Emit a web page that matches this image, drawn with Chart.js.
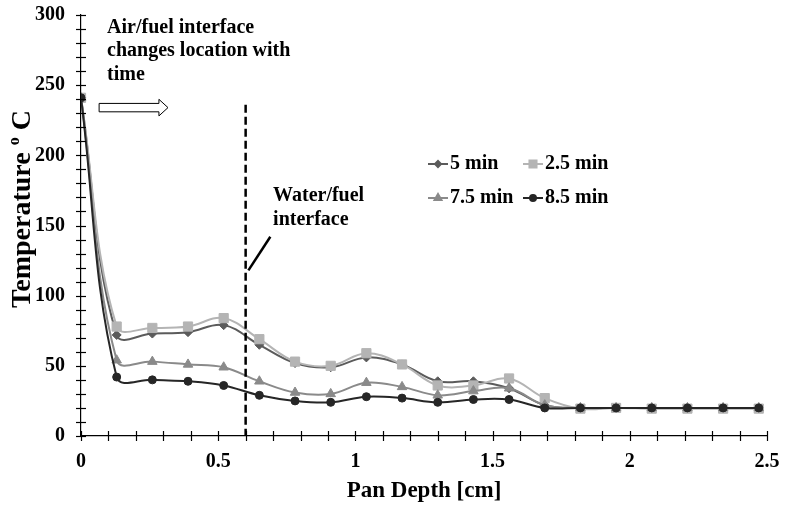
<!DOCTYPE html>
<html><head><meta charset="utf-8">
<script src="https://cdn.jsdelivr.net/npm/chart.js@4/dist/chart.umd.min.js"></script>
<style>html,body{margin:0;padding:0;background:#fff}#wrap{width:786px;height:506px;position:relative}</style>
</head><body><div id="wrap"><canvas id="c" width="786" height="506"></canvas></div>
<script>
const depth = [0,0.13,0.26,0.39,0.52,0.65,0.78,0.91,1.04,1.17,1.30,1.43,1.56,1.69,1.82,1.95,2.08,2.21,2.34,2.47];
const t5  = [241,72,73,74,79,65,52,49,56,51,39,39,34,22,20,20,20,20,20,20];
const t25 = [241,78,77,78,84,69,53,50,59,51,36,36,41,27,19.5,20,19.5,19.5,19.5,19.5];
const t75 = [241,54,53,51,49,39,31,30,38,35,29,32,34,22,20,20,20,20,20,20];
const t85 = [241,42,40,39,36,29,25,24,28,27,24,26,26,20,20,20,20,20,20,20];
const seriesNames = ['5 min','2.5 min','7.5 min','8.5 min'];
const xLabelTicks = [0,0.5,1,1.5,2,2.5];
const yLabelTicks = [0,50,100,150,200,250,300];
const noteAir = ['Air/fuel interface','changes location with','time'];
const noteWater = ['Water/fuel','interface'];
const yTitle = ['Temperature ','o',' C'];
const xTitle = 'Pan Depth [cm]';

const FONT = '"Liberation Serif", "Times New Roman", serif';
const styles = [
  {color:'#5b5b5b', point:'rectRot', r:4.5},
  {color:'#b4b4b4', point:'rect', r:6.5},
  {color:'#8a8a8a', point:'triangle', r:5.5},
  {color:'#262626', point:'circle', r:4}
];
const series = [t5,t25,t75,t85];
const orders = [3,2,1,0];

const datasets = series.map((vals,i)=>({
  label: seriesNames[i],
  data: depth.map((x,j)=>({x:x,y:vals[j]})),
  borderColor: styles[i].color,
  backgroundColor: styles[i].color,
  pointBackgroundColor: styles[i].color,
  pointBorderColor: styles[i].color,
  pointStyle: styles[i].point,
  pointRadius: styles[i].r,
  pointBorderWidth: 1,
  borderWidth: 2,
  tension: 0.38,
  order: orders[i],
  fill: false
}));

function near(v, arr){ return arr.some(a=>Math.abs(a-v)<1e-6); }

const annot = {
  id:'annot',
  afterDraw(chart){
    const ctx = chart.ctx, xs = chart.scales.x, ys = chart.scales.y, ca = chart.chartArea;
    ctx.save();
    // tick marks crossing axes
    ctx.strokeStyle = '#000'; ctx.lineWidth = 1.2;
    xs.ticks.forEach(t=>{
      const px = Math.round(xs.getPixelForValue(t.value))+0.5;
      ctx.beginPath(); ctx.moveTo(px, ca.bottom-5); ctx.lineTo(px, ca.bottom+5); ctx.stroke();
    });
    ys.ticks.forEach(t=>{
      const py = Math.round(ys.getPixelForValue(t.value))+0.5;
      ctx.beginPath(); ctx.moveTo(ca.left-5, py); ctx.lineTo(ca.left+5, py); ctx.stroke();
    });
    // dashed interface line
    ctx.lineWidth = 2.5; ctx.setLineDash([8,4]);
    const dx = xs.getPixelForValue(0.6);
    ctx.beginPath(); ctx.moveTo(dx, ys.getPixelForValue(236)); ctx.lineTo(dx, ys.getPixelForValue(0)); ctx.stroke();
    ctx.setLineDash([]);
    // pointer line
    ctx.beginPath(); ctx.moveTo(xs.getPixelForValue(0.61), ys.getPixelForValue(118));
    ctx.lineTo(xs.getPixelForValue(0.69), ys.getPixelForValue(142)); ctx.stroke();
    // hollow arrow
    const ax0 = xs.getPixelForValue(0.066), ax1 = xs.getPixelForValue(0.284), ax2 = xs.getPixelForValue(0.317);
    const ay = ys.getPixelForValue(234);
    ctx.lineWidth = 1; ctx.fillStyle = '#fff';
    ctx.beginPath();
    ctx.moveTo(ax0, ay-4.2); ctx.lineTo(ax1, ay-4.2); ctx.lineTo(ax1, ay-8.3); ctx.lineTo(ax2, ay);
    ctx.lineTo(ax1, ay+8.3); ctx.lineTo(ax1, ay+4.2); ctx.lineTo(ax0, ay+4.2); ctx.closePath();
    ctx.fill(); ctx.stroke();
    // notes
    ctx.fillStyle = '#000'; ctx.font = 'bold 20px '+FONT; ctx.textBaseline = 'middle'; ctx.textAlign = 'left';
    const airY = [290.8,274.4,257.3];
    noteAir.forEach((s,i)=>ctx.fillText(s, xs.getPixelForValue(0.095), ys.getPixelForValue(airY[i])));
    const wY = [171,154];
    noteWater.forEach((s,i)=>ctx.fillText(s, xs.getPixelForValue(0.7), ys.getPixelForValue(wY[i])));
    // legend
    const colX = [428, 523], rowY = [164, 198];
    seriesNames.forEach((n,i)=>{
      const lx = colX[i%2], ly = rowY[Math.floor(i/2)];
      ctx.strokeStyle = styles[i].color; ctx.lineWidth = 2;
      ctx.beginPath(); ctx.moveTo(lx, ly); ctx.lineTo(lx+20, ly); ctx.stroke();
      ctx.fillStyle = styles[i].color;
      Chart.helpers.drawPoint(ctx, {pointStyle: styles[i].point, radius: Math.max(3, styles[i].r-1.5), rotation:0, borderWidth:1}, lx+10, ly);
      ctx.fillStyle = '#000';
      ctx.fillText(n, lx+22, ly);
    });
    // y title
    ctx.save();
    ctx.translate(21, 209); ctx.rotate(-Math.PI/2);
    const big = 'bold 28px '+FONT, small = 'bold 16px '+FONT;
    ctx.font = big;
    const w0 = ctx.measureText(yTitle[0]).width;
    ctx.font = small;
    const w1 = ctx.measureText(yTitle[1]).width;
    ctx.font = big;
    const w2 = ctx.measureText(yTitle[2]).width;
    let sx = -(w0+w1+w2)/2;
    ctx.textAlign='left'; ctx.textBaseline='alphabetic';
    ctx.fillText(yTitle[0], sx, 9);
    ctx.font = small; ctx.fillText(yTitle[1], sx+w0, -2);
    ctx.font = big; ctx.fillText(yTitle[2], sx+w0+w1, 9);
    ctx.restore();
    ctx.restore();
  }
};

const hiddenGrid = {display:true, drawOnChartArea:false, drawTicks:true, tickLength:14, color:'rgba(0,0,0,0)'};

new Chart(document.getElementById('c'), {
  type:'line',
  data:{datasets},
  options:{
    responsive:false, animation:false,
    layout:{padding:{top:15,right:19,left:0,bottom:1}},
    plugins:{legend:{display:false}, tooltip:{enabled:false}},
    scales:{
      x:{type:'linear', min:0, max:2.5,
        afterFit(s){ s.height = 69; },
        grid:hiddenGrid,
        border:{display:true, color:'#000', width:1.2},
        ticks:{stepSize:0.1, autoSkip:false, maxRotation:0, color:'#000', padding:0,
          font:{family:FONT, size:20, weight:'bold'},
          callback:(v)=> near(v, xLabelTicks) ? String(Math.round(v*10)/10) : ''},
        title:{display:true, text:xTitle, color:'#000', font:{family:FONT, size:23, weight:'bold'}, padding:{top:0,bottom:0}}
      },
      y:{min:0, max:300,
        afterFit(s){ s.width = 81; },
        grid:hiddenGrid,
        border:{display:true, color:'#000', width:1.2},
        ticks:{stepSize:10, autoSkip:false, color:'#000', padding:2,
          font:{family:FONT, size:20, weight:'bold'},
          callback:(v)=> near(v, yLabelTicks) ? String(v) : ''}
      }
    }
  },
  plugins:[annot]
});
</script></body></html>
